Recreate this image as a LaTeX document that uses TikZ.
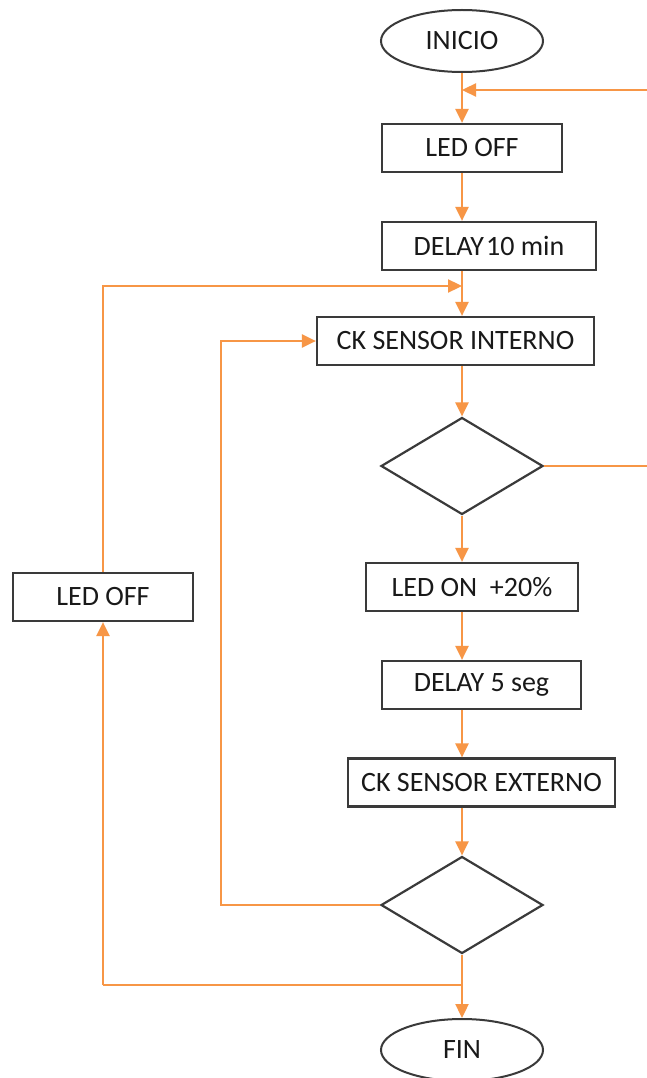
\documentclass[tikz,border=0pt]{standalone}
\usepackage{fontspec}
\setmainfont{Carlito}
\usetikzlibrary{shapes.geometric,arrows.meta}
\definecolor{org}{HTML}{F79646}
\definecolor{dk}{HTML}{3A3A3A}
\begin{document}
\begin{tikzpicture}[x=1pt,y=-1pt,
  txt/.style={font=\fontsize{28}{32}\selectfont,text=black!90},
  box/.style={txt,draw=dk,line width=2.2pt,rectangle,minimum height=48pt,inner sep=0pt},
  term/.style={txt,draw=dk,line width=2pt,ellipse,minimum width=162pt,minimum height=62pt,inner sep=0pt},
  dec/.style={draw=dk,line width=2.2pt,diamond,minimum width=162pt,minimum height=97pt,inner sep=0pt},
  flow/.style={draw=org,line width=2.3pt,-{Triangle[length=14pt,width=13pt]}},
  plain/.style={draw=org,line width=2.3pt}]
\useasboundingbox (0,0) rectangle (647,1078);
\fill[white] (0,0) rectangle (647,1078);
\node[term] (inicio) at (462,41) {INICIO};
\node[box,minimum width=180pt] (led1) at (472,148) {LED OFF};
\node[box,minimum width=214pt] (delay1) at (489,246) {DELAY\kern2pt10 min};
\node[box,minimum width=277pt] (ckint) at (455.5,341) {CK SENSOR INTERNO};
\node[dec] (dec1) at (462,466) {};
\node[box,minimum width=212pt] (ledon) at (472,587) {LED ON~~+20\%};
\node[box,minimum width=199pt] (delay2) at (481.5,685) {DELAY~5 seg};
\node[box,minimum width=267pt] (ckext) at (481.5,782.5) {CK SENSOR EXTERNO};
\node[dec] (dec2) at (462,905) {};
\node[term] (fin) at (462,1050) {FIN};
\node[box,minimum width=180pt] (led2) at (103,597) {LED OFF};
\coordinate (col) at (462,0);
\coordinate (r1) at (648,466);
\coordinate (r2) at (648,90);
\coordinate (j1) at (462,90);
\coordinate (j2) at (462,286);
\coordinate (l1) at (103,286);
\coordinate (k1) at (221,905);
\coordinate (k2) at (221,341);
\coordinate (j3) at (462,985);
\coordinate (b1) at (103,985);
% main column
\draw[flow] (inicio.south) -- (inicio.south |- led1.north);
\draw[flow] (led1.south -| col) -- (delay1.north -| col);
\draw[flow] (delay1.south -| col) -- (ckint.north -| col);
\draw[flow] (ckint.south -| col) -- (dec1.north);
\draw[flow] (dec1.south) -- (ledon.north -| col);
\draw[flow] (ledon.south -| col) -- (delay2.north -| col);
\draw[flow] (delay2.south -| col) -- (ckext.north -| col);
\draw[flow] (ckext.south -| col) -- (dec2.north);
\draw[flow] (dec2.south) -- (fin.north);
% right loop
\draw[flow] (dec1.east) -- (r1) -- (r2) -- (j1);
% inner left loop
\draw[flow] (dec2.west) -- (k1) -- (k2) -- (ckint.west);
% outer left loop
\draw[plain] (j3) -- (b1);
\draw[flow] (b1) -- (led2.south);
\draw[flow] (led2.north) -- (l1) -- (j2);
\end{tikzpicture}
\end{document}
